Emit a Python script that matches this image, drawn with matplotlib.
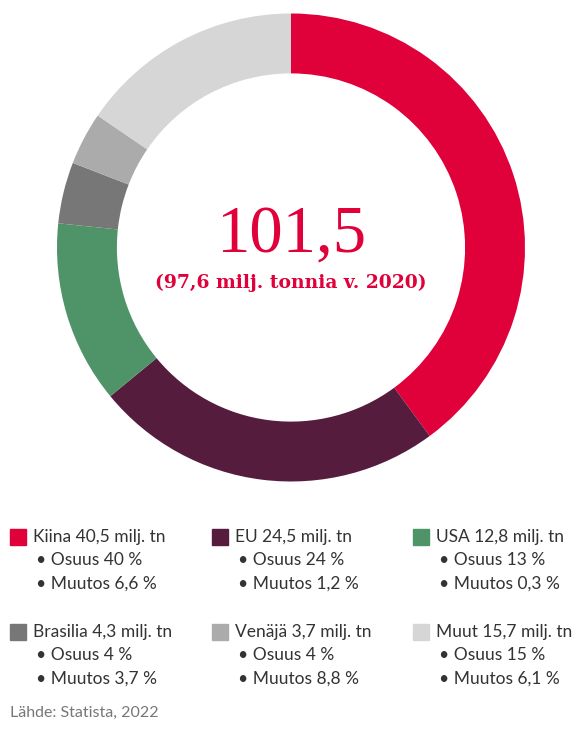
import matplotlib.pyplot as plt

# tuotanto milj. tonnia (2022)
maat = ["Kiina", "EU", "USA", "Brasilia", "Venäjä", "Muut"]
maara = [40.5, 24.5, 12.8, 4.3, 3.7, 15.7]
osuus = [40, 24, 13, 4, 4, 15]
muutos = ["6,6", "1,2", "0,3", "3,7", "8,8", "6,1"]
varit = ["#E0003A", "#561C3E", "#4F9468", "#777777", "#ABABAB", "#D6D6D6"]

plt.rcParams['font.family'] = ['Lato', 'DejaVu Sans']
fig = plt.figure(figsize=(5.78, 7.29), dpi=100)

# donitsi
ax = fig.add_axes([0.0986, 0.3395, 0.8097, 0.642])
ax.pie(maara, colors=varit, startangle=90, counterclock=False,
       wedgeprops=dict(width=0.256, edgecolor="none"))
ax.set_xlim(-1, 1)
ax.set_ylim(-1, 1)
ax.set_aspect("equal")
ax.axis("off")
ax.text(0, 0.055, "101,5", ha="center", va="center", fontsize=48,
        color="#E0003A", family="Liberation Serif")
ax.text(0, -0.153, "(97,6 milj. tonnia v. 2020)", ha="center", va="center",
        fontsize=13.5, color="#E0003A", family="DejaVu Serif", weight="bold")

# selite
sarakkeet = [10, 212, 413]
rivit = [537, 632]
for i, maa in enumerate(maat):
    x = sarakkeet[i % 3]
    y = rivit[i // 3]
    fig.patches.append(plt.Rectangle((x / 578, 1 - (y + 8) / 729), 16 / 578, 16 / 729,
                                     transform=fig.transFigure, color=varit[i]))
    fig.text((x + 23) / 578, 1 - y / 729, f"{maa} {maara[i]:.1f} milj. tn".replace(".", ",", 1),
             fontsize=12.5, color="#333333", va="center")
    fig.text((x + 26) / 578, 1 - (y + 23) / 729, f"• Osuus {osuus[i]} %",
             fontsize=12.5, color="#333333", va="center")
    fig.text((x + 26) / 578, 1 - (y + 47) / 729, f"• Muutos {muutos[i]} %",
             fontsize=12.5, color="#333333", va="center")

fig.text(10 / 578, 1 - 713 / 729, "Lähde: Statista, 2022", fontsize=11.5,
         color="#777777", va="center")

fig.savefig("out.png", dpi=100)
